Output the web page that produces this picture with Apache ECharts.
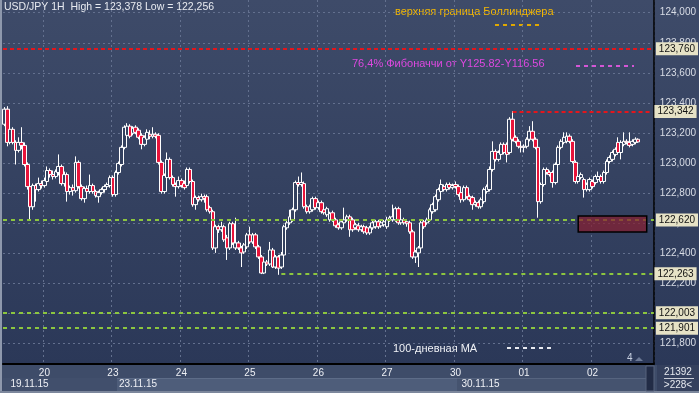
<!DOCTYPE html>
<html><head><meta charset="utf-8">
<script src="https://cdn.jsdelivr.net/npm/echarts@6/dist/echarts.min.js"></script>
<style>
html,body{margin:0;padding:0;background:#2f3c5a;overflow:hidden;}
#wrap{position:relative;width:699px;height:393px;}
.bg{position:absolute;}
#c{position:absolute;left:0;top:0;width:699px;height:393px;}
</style>
</head><body>
<div id="wrap">
  <div class="bg" style="left:0;top:0;width:699px;height:365px;background:linear-gradient(#3e4b69,#2b3858);"></div>
  <div class="bg" style="left:0;top:365px;width:699px;height:28px;background:#3e4c69;"></div>
  <div class="bg" style="left:3px;top:378px;width:114px;height:13px;background:#414f6c;"></div>
  <div class="bg" style="left:117px;top:378px;width:340px;height:13px;background:#4e5d7a;border-top:1px solid #5d6c88;"></div>
  <div class="bg" style="left:457px;top:378px;width:189px;height:13px;background:#45536f;border-top:1px solid #56647f;"></div>
  <div class="bg" style="left:657px;top:365px;width:42px;height:28px;background:#34405d;"></div>
  <div class="bg" style="left:0;top:0;width:2px;height:393px;background:#8e98ac;"></div>
  <div class="bg" style="left:0;top:391px;width:699px;height:2px;background:#7c879c;"></div>
  <div id="c"></div>
</div>
<script>
// ---- time axis (1H bars, weekend skipped) ----
const dayNames = ['19.11.15','20.11.15','23.11.15','24.11.15','25.11.15','26.11.15','27.11.15','30.11.15','01.12.15','02.12.15'];
const dayFirstHour = [10,0,0,0,0,0,0,0,0,0];
const dayBars = [14,24,24,24,24,24,24,24,24,22];
const weekStarts = ['19.11.15','23.11.15','30.11.15'];

// ---- OHLC (USD/JPY, 1H) ----
const open = [
123.258,123.358,123.137,123.224,123.137,123.084,123.137,123.117,122.990,122.843,
122.709,122.850,122.823,122.863,122.850,122.877,122.950,122.923,122.910,122.937,
122.977,122.863,122.923,122.810,122.836,122.816,123.004,122.843,122.763,122.830,
122.810,122.850,122.810,122.776,122.803,122.823,122.843,122.850,122.903,122.790,
122.937,122.990,123.104,123.184,123.245,123.198,123.238,123.218,123.184,123.124,
123.158,123.191,123.178,123.191,123.184,123.004,122.810,122.903,123.024,122.903,
122.857,122.843,122.883,122.863,122.850,122.957,122.877,122.723,122.770,122.756,
122.776,122.776,122.703,122.676,122.435,122.576,122.556,122.576,122.502,122.435,
122.596,122.435,122.468,122.435,122.408,122.442,122.522,122.475,122.522,122.442,
122.375,122.268,122.341,122.328,122.421,122.308,122.375,122.308,122.388,122.569,
122.602,122.622,122.689,122.870,122.857,122.863,122.709,122.676,122.689,122.763,
122.703,122.736,122.689,122.656,122.622,122.669,122.622,122.589,122.569,122.602,
122.622,122.642,122.622,122.569,122.582,122.556,122.576,122.569,122.535,122.569,
122.576,122.609,122.582,122.589,122.576,122.622,122.622,122.622,122.696,122.602,
122.622,122.609,122.602,122.542,122.375,122.402,122.435,122.609,122.602,122.622,
122.676,122.689,122.756,122.810,122.843,122.823,122.857,122.836,122.857,122.843,
122.803,122.756,122.836,122.776,122.770,122.723,122.736,122.709,122.743,122.810,
122.823,122.957,123.077,123.024,123.057,123.124,123.124,123.070,123.291,123.171,
123.144,123.111,123.104,123.111,123.158,123.211,123.158,123.104,122.743,122.857,
122.957,122.937,122.937,122.870,122.990,123.104,123.137,123.144,123.178,123.144,
123.004,122.877,122.903,122.890,122.823,122.823,122.877,122.870,122.890,122.910,
122.877,122.937,123.010,123.024,123.057,123.137,123.070,123.124,123.144,123.137,
123.124,123.137,123.158];
const close = [
123.358,123.137,123.224,123.137,123.084,123.137,123.117,122.990,122.843,122.709,
122.850,122.823,122.863,122.850,122.883,122.950,122.923,122.910,122.943,122.977,
122.863,122.923,122.810,122.836,122.816,123.004,122.843,122.763,122.830,122.810,
122.850,122.810,122.783,122.803,122.823,122.843,122.857,122.903,122.790,122.937,
122.997,123.104,123.238,123.245,123.178,123.231,123.204,123.171,123.124,123.171,
123.204,123.178,123.191,123.178,123.004,122.810,122.917,123.024,122.903,122.857,
122.843,122.883,122.850,122.836,122.957,122.877,122.723,122.770,122.756,122.776,
122.763,122.689,122.676,122.435,122.576,122.556,122.576,122.489,122.435,122.596,
122.468,122.468,122.435,122.402,122.455,122.522,122.475,122.522,122.442,122.375,
122.268,122.341,122.328,122.421,122.308,122.375,122.301,122.388,122.576,122.602,
122.642,122.689,122.870,122.857,122.870,122.709,122.676,122.709,122.763,122.703,
122.736,122.676,122.669,122.696,122.663,122.622,122.582,122.569,122.609,122.622,
122.642,122.556,122.556,122.589,122.556,122.576,122.542,122.535,122.569,122.602,
122.609,122.576,122.602,122.609,122.622,122.636,122.642,122.696,122.602,122.622,
122.602,122.596,122.542,122.375,122.408,122.435,122.602,122.576,122.622,122.689,
122.723,122.776,122.823,122.857,122.823,122.857,122.836,122.850,122.843,122.790,
122.756,122.836,122.776,122.756,122.723,122.736,122.709,122.756,122.823,122.843,
122.957,123.077,123.024,123.070,123.124,123.070,123.057,123.291,123.158,123.144,
123.111,123.104,123.111,123.158,123.211,123.158,123.104,122.743,122.857,122.957,
122.937,122.923,122.870,122.990,123.104,123.144,123.171,123.178,123.144,123.010,
122.877,122.910,122.923,122.823,122.857,122.890,122.843,122.910,122.910,122.877,
122.937,123.010,123.037,123.070,123.091,123.070,123.137,123.144,123.137,123.117,
123.144,123.158,123.140];
const low = [
123.245,123.111,123.124,123.124,122.990,123.070,123.091,122.977,122.823,122.622,
122.689,122.743,122.810,122.830,122.836,122.863,122.903,122.890,122.897,122.917,
122.850,122.843,122.743,122.790,122.783,122.803,122.830,122.750,122.736,122.790,
122.796,122.796,122.770,122.736,122.790,122.803,122.823,122.836,122.776,122.776,
122.923,122.977,123.091,123.171,123.164,123.184,123.191,123.158,123.091,123.111,
123.144,123.158,123.164,123.164,122.990,122.796,122.796,122.890,122.890,122.843,
122.776,122.830,122.836,122.823,122.836,122.863,122.709,122.689,122.743,122.743,
122.736,122.676,122.663,122.421,122.402,122.535,122.542,122.475,122.355,122.421,
122.455,122.421,122.421,122.308,122.395,122.428,122.462,122.462,122.428,122.362,
122.261,122.261,122.315,122.315,122.301,122.295,122.256,122.295,122.375,122.556,
122.589,122.609,122.676,122.843,122.843,122.696,122.663,122.663,122.676,122.689,
122.689,122.663,122.656,122.642,122.609,122.609,122.569,122.556,122.556,122.589,
122.609,122.509,122.542,122.556,122.542,122.542,122.529,122.522,122.522,122.556,
122.562,122.562,122.569,122.576,122.562,122.609,122.609,122.609,122.589,122.589,
122.589,122.576,122.529,122.362,122.335,122.308,122.421,122.562,122.589,122.609,
122.663,122.676,122.743,122.796,122.810,122.810,122.823,122.823,122.830,122.776,
122.736,122.743,122.763,122.743,122.689,122.709,122.696,122.696,122.729,122.796,
122.810,122.943,123.010,123.010,123.044,123.057,123.004,123.057,123.144,123.131,
123.097,123.070,123.070,123.097,123.144,123.144,123.091,122.636,122.729,122.843,
122.923,122.910,122.836,122.857,122.977,123.091,123.124,123.131,123.131,122.997,
122.863,122.863,122.890,122.770,122.810,122.810,122.830,122.857,122.877,122.863,
122.863,122.923,122.997,123.010,123.044,123.057,123.024,123.111,123.124,123.104,
123.111,123.124,123.137];
const high = [
123.372,123.378,123.251,123.238,123.151,123.171,123.238,123.137,123.004,122.857,
122.863,122.863,122.903,122.883,122.903,122.977,122.964,122.950,122.957,123.057,
122.990,122.943,122.937,122.850,122.857,123.044,123.017,122.857,122.843,122.850,
122.923,122.863,122.823,122.816,122.836,122.857,122.870,122.917,122.917,122.950,
123.010,123.117,123.251,123.265,123.258,123.245,123.251,123.231,123.198,123.184,
123.224,123.218,123.238,123.204,123.198,123.017,122.930,123.070,123.037,122.917,
122.870,122.910,122.897,122.883,122.970,122.970,122.890,122.783,122.783,122.796,
122.790,122.790,122.716,122.689,122.589,122.589,122.609,122.589,122.522,122.609,
122.609,122.636,122.482,122.448,122.468,122.535,122.576,122.535,122.535,122.455,
122.388,122.355,122.355,122.475,122.435,122.388,122.388,122.408,122.589,122.616,
122.689,122.703,122.883,122.910,122.937,122.877,122.723,122.723,122.776,122.776,
122.750,122.750,122.709,122.709,122.676,122.683,122.636,122.602,122.622,122.703,
122.656,122.656,122.636,122.602,122.602,122.589,122.589,122.582,122.582,122.616,
122.622,122.622,122.616,122.622,122.642,122.649,122.723,122.709,122.709,122.636,
122.636,122.622,122.616,122.556,122.421,122.448,122.616,122.622,122.636,122.703,
122.736,122.790,122.836,122.890,122.857,122.870,122.870,122.863,122.877,122.857,
122.816,122.850,122.850,122.790,122.783,122.750,122.750,122.770,122.836,122.857,
122.977,123.144,123.091,123.084,123.137,123.137,123.137,123.305,123.345,123.184,
123.158,123.124,123.124,123.171,123.245,123.278,123.171,123.117,122.870,122.970,
122.970,122.950,122.950,123.004,123.117,123.158,123.204,123.204,123.191,123.158,
123.017,122.923,122.937,122.903,122.870,122.903,122.890,122.923,122.943,122.923,
122.950,123.024,123.051,123.084,123.104,123.171,123.151,123.204,123.158,123.204,
123.158,123.171,123.164];

// ---- price axis ticks ----
const priceTicks = [121.8,122.0,122.2,122.4,122.6,122.8,123.0,123.2,123.4,123.6,123.8,124.0];

// ---- horizontal levels ----
const resistanceLevels = [123.760, 123.342];
const resistanceFrom = [null, '30.11.15 20:00'];
const supportLevels = [122.620, 122.263, 122.003, 121.901];
const supportFrom = [null, '25.11.15 11:00', null, null];
// zone (rectangle)
const zoneFrom = '01.12.15 19:00', zoneTo = '02.12.15 19:00';
const zoneTop = 122.647, zoneBottom = 122.541;

// ---- build ----
const categories = [];
dayNames.forEach((d, k) => {
  for (let j = 0; j < dayBars[k]; j++) categories.push(d + ' ' + String(dayFirstHour[k] + j).padStart(2, '0') + ':00');
});
const lastCat = categories[categories.length - 1];
const candles = open.map((o, i) => [o, close[i], low[i], high[i]]);
const fmt = v => Number(v).toFixed(3).replace('.', ',');
const maxHigh = Math.max(...high), minLow = Math.min(...low);
const lastClose = close[close.length - 1];

const FONT = 'Liberation Sans';
const gridStyle = {color: '#63708e', type: [2, 3], width: 1};
const tagLabel = {show: true, position: 'end', distance: 2, color: '#111', backgroundColor: '#e6e2c6',
  padding: [2, 3, 1, 3], fontSize: 10, fontFamily: FONT, formatter: p => fmt(p.value)};

function levelItem(v, from, style) {
  if (from == null) return {yAxis: v, value: v, lineStyle: style};
  return [{coord: [from, v], value: v, lineStyle: style}, {coord: [lastCat, v]}];
}
const redStyle = {color: '#e3161c', width: 2, type: [4, 3]};
const greenStyle = {color: '#8cc63f', width: 2, type: [4, 4]};
const lines = [];
resistanceLevels.forEach((v, i) => lines.push(levelItem(v, resistanceFrom[i], redStyle)));
supportLevels.forEach((v, i) => lines.push(levelItem(v, supportFrom[i], greenStyle)));
lines.push({yAxis: lastClose, value: lastClose, lineStyle: {opacity: 0},
  label: {backgroundColor: '#c4c8d1'}});

const chart = echarts.init(document.getElementById('c'));
chart.setOption({
  backgroundColor: 'transparent',
  animation: false,
  grid: {left: 3, right: 43, top: 0, bottom: 29},
  xAxis: [{
    type: 'category', data: categories, boundaryGap: true,
    axisLine: {show: true, lineStyle: {color: '#000', width: 2}},
    axisTick: {show: false},
    axisLabel: {interval: (i, v) => v.endsWith(' 00:00'), formatter: v => v.slice(0, 2),
      color: '#eef0f5', fontSize: 10, fontFamily: FONT, margin: 4},
    splitLine: {show: true, interval: (i, v) => v.endsWith(' 00:00'), lineStyle: gridStyle}
  }, {
    type: 'category', data: categories, boundaryGap: true, position: 'bottom', offset: 13,
    axisLine: {show: false}, axisTick: {show: false}, splitLine: {show: false},
    axisLabel: {interval: (i, v) => weekStarts.includes(v.slice(0, 8)) && (i === 0 || v.endsWith(' 00:00')),
      formatter: v => v.slice(0, 8), align: 'left', padding: [0, 0, 0, 6],
      color: '#eef0f5', fontSize: 10, fontFamily: FONT, margin: 2}
  }],
  yAxis: {
    type: 'value', position: 'right', min: 121.6627, max: 124.0845,
    axisLine: {show: true, lineStyle: {color: '#000', width: 1.5}},
    axisTick: {show: false, customValues: priceTicks},
    axisLabel: {customValues: priceTicks, formatter: v => fmt(v), color: '#d9dde6', fontSize: 10, fontFamily: FONT, margin: 6},
    splitLine: {show: true, lineStyle: gridStyle}
  },
  series: [{
    type: 'candlestick', data: candles, barWidth: 4,
    itemStyle: {color: '#34415f', color0: '#e8143a', borderColor: '#ffffff', borderColor0: '#ffffff', borderWidth: 1},
    markLine: {symbol: ['none', 'none'], silent: true, precision: 3, z: 5, label: tagLabel, data: lines},
    markArea: {silent: true, z: 6, itemStyle: {color: 'rgba(135,30,48,0.72)', borderColor: '#000', borderWidth: 1.5},
      data: [[{coord: [zoneFrom, zoneTop]}, {coord: [zoneTo, zoneBottom]}]]}
  }],
  graphic: [
    {type: 'text', left: 4, top: 2, style: {text: 'USD/JPY 1H  High = ' + fmt(maxHigh) + ' Low = ' + fmt(minLow), fill: '#e8ebf1', font: '10.5px "Liberation Sans"'}},
    {type: 'text', left: 395, top: 6, style: {text: 'верхняя граница Боллинджера', fill: '#f2b705', font: '11px "Liberation Sans"'}},
    {type: 'line', shape: {x1: 495, y1: 25, x2: 541, y2: 25}, style: {stroke: '#e0a800', lineWidth: 2, lineDash: [4, 4]}},
    {type: 'text', left: 352, top: 58, style: {text: '76,4% Фибоначчи от Y125.82-Y116.56', fill: '#de48e0', font: '11px "Liberation Sans"'}},
    {type: 'line', shape: {x1: 576, y1: 66, x2: 634, y2: 66}, style: {stroke: '#d456d6', lineWidth: 2, lineDash: [4, 4]}},
    {type: 'text', left: 393, top: 343, style: {text: '100-дневная MA', fill: '#f0f2f6', font: '11px "Liberation Sans"'}},
    {type: 'line', shape: {x1: 507, y1: 348, x2: 551, y2: 348}, style: {stroke: '#e8eaf0', lineWidth: 2, lineDash: [4, 4]}},
    {type: 'text', left: 627, top: 353, style: {text: '4', fill: '#c8d0e0', font: '10px "Liberation Sans"'}},
    {type: 'polygon', shape: {points: [[635, 361], [643, 361], [639, 357]]}, style: {fill: '#6d7a96'}},
    {type: 'rect', shape: {x: 646, y: 366, width: 8, height: 25}, style: {fill: '#222c46', stroke: '#56627c', lineWidth: 1}},
    {type: 'text', x: 678, y: 372, style: {text: '21392', fill: '#e6e9ef', font: '10px "Liberation Sans"', align: 'center', verticalAlign: 'middle'}},
    {type: 'line', shape: {x1: 664, y1: 378.5, x2: 694, y2: 378.5}, style: {stroke: '#c8ccd6', lineWidth: 1}},
    {type: 'text', x: 678, y: 385, style: {text: '>228<', fill: '#e6e9ef', font: '10px "Liberation Sans"', align: 'center', verticalAlign: 'middle'}}
  ]
});
</script>
</body></html>
